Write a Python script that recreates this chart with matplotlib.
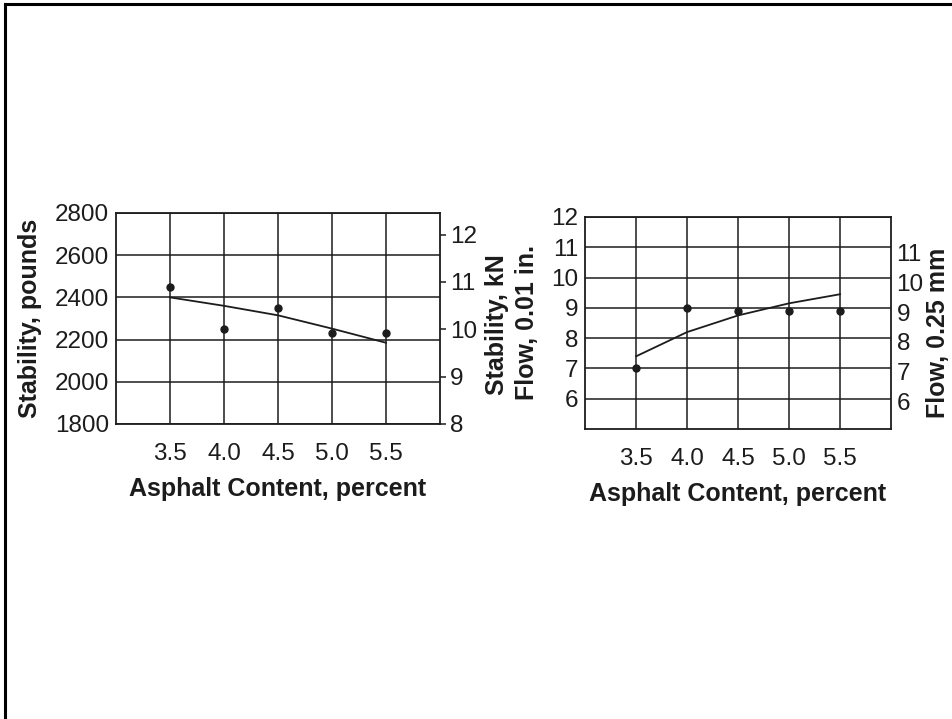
import matplotlib
matplotlib.use("Agg")
import matplotlib.pyplot as plt
from matplotlib.lines import Line2D

plt.rcParams['font.family'] = ['Liberation Sans', 'DejaVu Sans']

INK = '#1c1c1c'

# asphalt content, percent
asphalt = [3.5, 4.0, 4.5, 5.0, 5.5]

# stability test points and fitted curve (pounds)
stab_pts = [2450, 2250, 2350, 2230, 2230]
stab_fit = [2400, 2360, 2315, 2252, 2185]

# flow test points and fitted curve (0.01 in.)
flow_pts = [7.0, 9.0, 8.9, 8.9, 8.9]
flow_fit = [7.4, 8.2, 8.75, 9.15, 9.45]

stab_ticks = [1800, 2000, 2200, 2400, 2600, 2800]
kn_ticks = [8, 9, 10, 11, 12]
flow_ticks = [6, 7, 8, 9, 10, 11, 12]
mm_ticks = [6, 7, 8, 9, 10, 11]

LB_PER_KN = 224.8
MM_UNIT = 0.254 / 0.25

TICK_FS = 17.5
LABEL_FS = 18

fig = plt.figure(figsize=(9.53, 7.19), dpi=100)

# frame of the scanned page: top and left edges only
fig.add_artist(Line2D([0.005, 0.005], [0.0, 0.994], transform=fig.transFigure, color='black', lw=2.2))
fig.add_artist(Line2D([0.005, 1.0], [0.994, 0.994], transform=fig.transFigure, color='black', lw=2.2))


def style(ax):
    ax.set_xlim(3.0, 6.0)
    ax.set_xticks(asphalt)
    ax.set_xticklabels(['%.1f' % a for a in asphalt])
    for s in ax.spines.values():
        s.set_color(INK)
        s.set_linewidth(1.3)
    ax.grid(True, color=INK, lw=1.1)
    ax.tick_params(axis='x', length=0, pad=14, labelsize=TICK_FS, colors=INK)
    ax.tick_params(axis='y', length=0, pad=5, labelsize=TICK_FS, colors=INK)
    ax.set_xlabel('Asphalt Content, percent', fontsize=LABEL_FS, fontweight='bold', color=INK, labelpad=8)


# left chart: stability
ax1 = fig.add_axes([0.1217, 0.4103, 0.340, 0.2935])
style(ax1)
ax1.set_ylim(1800, 2800)
ax1.set_yticks(stab_ticks)
ax1.plot(asphalt, stab_fit, color=INK, lw=1.3)
ax1.plot(asphalt, stab_pts, 'o', color=INK, ms=5, clip_on=False)
ax1.set_ylabel('Stability, pounds', fontsize=LABEL_FS, fontweight='bold', color=INK, labelpad=9)

ax1r = ax1.twinx()
ax1r.set_ylim(1800 / LB_PER_KN, 2800 / LB_PER_KN)
ax1r.set_yticks(kn_ticks)
ax1r.tick_params(axis='y', length=4, width=1.1, direction='out', pad=3, labelsize=TICK_FS, colors=INK)
for s in ax1r.spines.values():
    s.set_visible(False)

# right chart: flow
ax2 = fig.add_axes([0.6139, 0.4033, 0.3211, 0.2949])
style(ax2)
ax2.set_ylim(5, 12)
ax2.set_yticks(flow_ticks)
ax2.plot(asphalt, flow_fit, color=INK, lw=1.3)
ax2.plot(asphalt, flow_pts, 'o', color=INK, ms=5, clip_on=False)

ax2r = ax2.twinx()
ax2r.set_ylim(5 * MM_UNIT, 12 * MM_UNIT)
ax2r.set_yticks(mm_ticks)
ax2r.tick_params(axis='y', length=0, pad=4, labelsize=TICK_FS, colors=INK)
for s in ax2r.spines.values():
    s.set_visible(False)

fig.text(497 / 953, 1 - 325 / 719, 'Stability, kN', rotation=90, ha='center', va='center',
         fontsize=LABEL_FS, fontweight='bold', color=INK)
fig.text(527 / 953, 1 - 322 / 719, 'Flow, 0.01 in.', rotation=90, ha='center', va='center',
         fontsize=LABEL_FS, fontweight='bold', color=INK)
fig.text(938 / 953, 1 - 333 / 719, 'Flow, 0.25 mm', rotation=90, ha='center', va='center',
         fontsize=LABEL_FS, fontweight='bold', color=INK)

fig.savefig('out.png', dpi=100, facecolor='white')
